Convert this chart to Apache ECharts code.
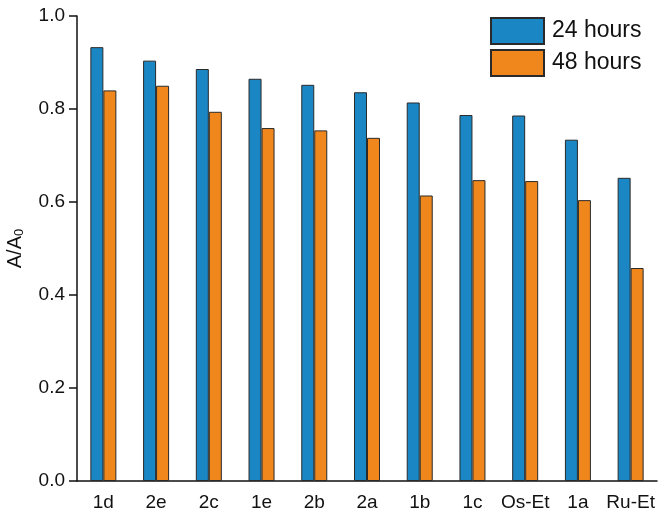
<!DOCTYPE html>
<html>
<head>
<meta charset="utf-8">
<script src="https://cdn.jsdelivr.net/npm/echarts@6/dist/echarts.min.js"></script>
<style>
  html, body { margin: 0; padding: 0; background: #fff; }
  #chart { width: 660px; height: 515px; }
</style>
</head>
<body>
<div id="chart"></div>
<script>
const categories = ['1d', '2e', '2c', '1e', '2b', '2a', '1b', '1c', 'Os-Et', '1a', 'Ru-Et'];
const hours24 = [0.933, 0.904, 0.886, 0.865, 0.852, 0.836, 0.814, 0.787, 0.786, 0.734, 0.652];
const hours48 = [0.840, 0.850, 0.794, 0.759, 0.754, 0.738, 0.614, 0.647, 0.645, 0.604, 0.458];
const yTicks = [0, 0.2, 0.4, 0.6, 0.8, 1.0];

const font = 'Liberation Sans, Arial, sans-serif';
const chart = echarts.init(document.getElementById('chart'));

chart.setOption({
  animation: false,
  grid: { left: 77, right: 3, top: 16, bottom: 34, containLabel: false, outerBoundsMode: 'none' },
  legend: {
    orient: 'vertical',
    left: 490,
    top: 17,
    padding: 0,
    itemWidth: 53,
    itemHeight: 26,
    itemGap: 4,
    icon: 'rect',
    textStyle: { fontFamily: font, fontSize: 23, color: '#111', padding: [0, 0, 0, 3] },
    data: ['24 hours', '48 hours']
  },
  xAxis: {
    type: 'category',
    data: categories,
    axisLine: { lineStyle: { color: '#111', width: 1.5 } },
    axisTick: { show: false },
    axisLabel: { interval: 0, fontFamily: font, fontSize: 19, color: '#111', margin: 12 }
  },
  yAxis: {
    type: 'value',
    min: 0,
    max: 1,
    interval: 0.2,
    splitLine: { show: false },
    axisLine: { show: true, lineStyle: { color: '#111', width: 1.5 } },
    axisTick: { show: true, length: 8, lineStyle: { color: '#111', width: 1.5 } },
    axisLabel: {
      fontFamily: font, fontSize: 19, color: '#111', margin: 12,
      formatter: v => yTicks.includes(+v.toFixed(1)) ? v.toFixed(1) : ''
    },
    name: '{a|A/A}{s|0}',
    nameLocation: 'middle',
    nameGap: 51,
    nameTextStyle: {
      rich: {
        a: { fontFamily: font, fontSize: 20, color: '#111' },
        s: { fontFamily: font, fontSize: 13, color: '#111', verticalAlign: 'bottom', padding: [8, 0, 0, 0] }
      }
    }
  },
  series: [
    {
      name: '24 hours',
      type: 'bar',
      data: hours24,
      barWidth: 13,
      barGap: '0%',
      itemStyle: { color: '#1a86c3', borderColor: '#2a2a2a', borderWidth: 1 }
    },
    {
      name: '48 hours',
      type: 'bar',
      data: hours48,
      barWidth: 13,
      barGap: '0%',
      itemStyle: { color: '#f0871c', borderColor: '#2a2a2a', borderWidth: 1 }
    }
  ]
});
</script>
</body>
</html>
